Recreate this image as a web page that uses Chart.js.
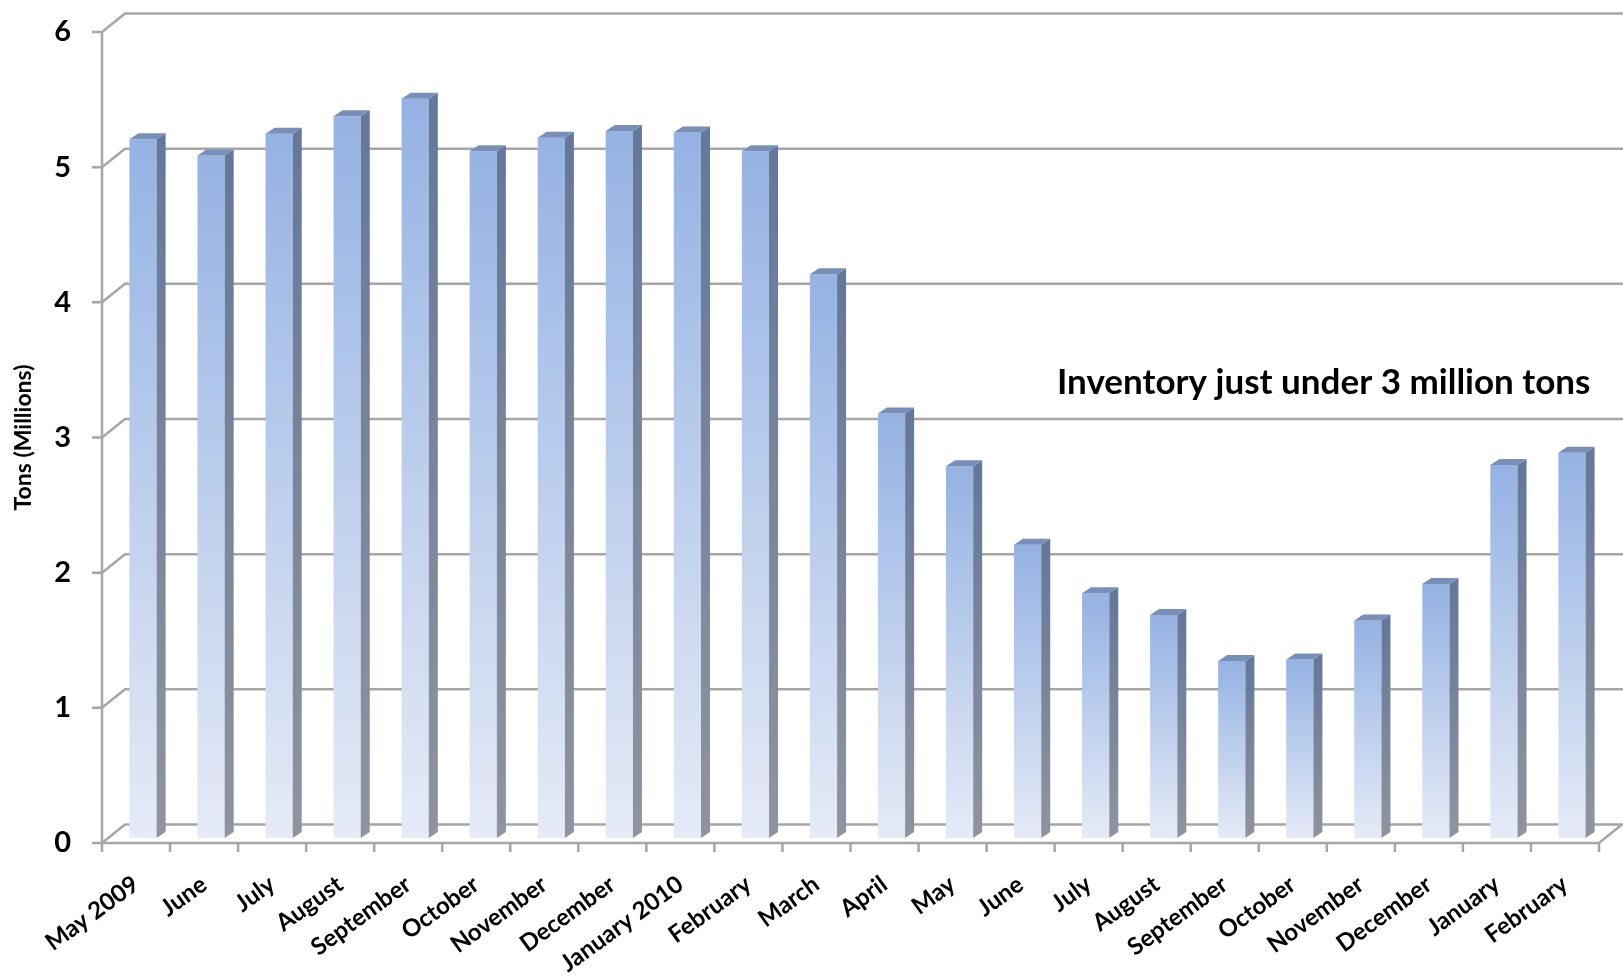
<!DOCTYPE html>
<html>
<head>
<meta charset="utf-8">
<script src="https://cdn.jsdelivr.net/npm/chart.js@4.4.0/dist/chart.umd.min.js"></script>
<style>
  html, body { margin: 0; padding: 0; background: #fff; }
  #wrap { width: 1623px; height: 977px; }
</style>
</head>
<body>
<div id="wrap"><canvas id="inventoryChart" width="1623" height="977"></canvas></div>
<script>
// ---------------- data ----------------
const months = ['May 2009', 'June', 'July', 'August', 'September', 'October', 'November',
  'December', 'January 2010', 'February', 'March', 'April', 'May', 'June', 'July',
  'August', 'September', 'October', 'November', 'December', 'January', 'February'];

const inventory = [5.17, 5.05, 5.21, 5.34, 5.47, 5.08, 5.18, 5.23, 5.22, 5.08, 4.17,
  3.14, 2.75, 2.17, 1.81, 1.65, 1.31, 1.32, 1.61, 1.88, 2.76, 2.85];

const yTicks = [0, 1, 2, 3, 4, 5, 6];
const yTitle = 'Tons (Millions)';
const noteText = 'Inventory just under 3 million tons';

// ---------------- 3d look ----------------
const FONT = 'Lato, "Open Sans", sans-serif';
const WALL_DX = 23, WALL_DY = -18.5; // depth of the back wall
const BAR_DX = 7, BAR_DY = -5;       // bars stand a bit behind the front edge
const SIDE_DX = 9, SIDE_DY = -6;     // depth of each bar
const GRID = '#a6a6a6';

const frame3d = {
  id: 'frame3d',
  beforeDatasetsDraw(chart) {
    const { ctx, chartArea, scales } = chart;
    const x = scales.x, y = scales.y;
    const left = chartArea.left, right = chartArea.right;
    ctx.save();
    ctx.strokeStyle = GRID;
    ctx.lineWidth = 2.5;
    // value lines: tick, diagonal, back wall line
    yTicks.forEach(v => {
      const py = y.getPixelForValue(v);
      ctx.beginPath();
      ctx.moveTo(left - 10, py);
      ctx.lineTo(left, py);
      ctx.lineTo(left + WALL_DX, py + WALL_DY);
      ctx.lineTo(chart.width + 5, py + WALL_DY);
      ctx.stroke();
    });
    // front left edge
    ctx.beginPath();
    ctx.moveTo(left, y.getPixelForValue(6));
    ctx.lineTo(left, y.getPixelForValue(0));
    ctx.stroke();
    // floor front edge + right diagonal
    const base = y.getPixelForValue(0);
    ctx.beginPath();
    ctx.moveTo(left, base);
    ctx.lineTo(right, base);
    ctx.lineTo(right + WALL_DX, base + WALL_DY);
    ctx.stroke();
    // category ticks on the front edge
    const step = (right - left) / months.length;
    for (let i = 0; i <= months.length; i++) {
      const px = x.getPixelForValue(i) - step / 2;
      ctx.beginPath();
      ctx.moveTo(px, base);
      ctx.lineTo(px, base + 9);
      ctx.stroke();
    }
    ctx.restore();
    ctx.save();
    ctx.translate(BAR_DX, BAR_DY);
  },
  afterDatasetsDraw(chart) {
    const { ctx } = chart;
    const meta = chart.getDatasetMeta(0);
    meta.data.forEach(bar => {
      const { x, y, base, width } = bar.getProps(['x', 'y', 'base', 'width'], true);
      const l = x - width / 2, r = x + width / 2;
      // side face
      const sg = ctx.createLinearGradient(0, y, 0, base);
      sg.addColorStop(0, '#65779a');
      sg.addColorStop(1, '#8f949e');
      ctx.fillStyle = sg;
      ctx.beginPath();
      ctx.moveTo(r, y);
      ctx.lineTo(r + SIDE_DX, y + SIDE_DY);
      ctx.lineTo(r + SIDE_DX, base + SIDE_DY);
      ctx.lineTo(r, base);
      ctx.closePath();
      ctx.fill();
      // top face
      ctx.fillStyle = '#7a8fb8';
      ctx.beginPath();
      ctx.moveTo(l, y);
      ctx.lineTo(l + SIDE_DX, y + SIDE_DY);
      ctx.lineTo(r + SIDE_DX, y + SIDE_DY);
      ctx.lineTo(r, y);
      ctx.closePath();
      ctx.fill();
    });
    ctx.restore();
  },
  afterDraw(chart) {
    const { ctx } = chart;
    ctx.save();
    ctx.fillStyle = '#000';
    ctx.font = 'bold 35px ' + FONT;
    ctx.textBaseline = 'middle';
    ctx.textAlign = 'left';
    ctx.fillText(noteText, 1057, 383, 534);
    ctx.restore();
  }
};

function barFill(context) {
  const chart = context.chart;
  if (!chart.chartArea || context.type !== 'data') return '#a9bfe8';
  const y = chart.scales.y;
  const top = y.getPixelForValue(context.raw);
  const bottom = y.getPixelForValue(0);
  const g = chart.ctx.createLinearGradient(0, top, 0, bottom);
  g.addColorStop(0, '#95b2e3');
  g.addColorStop(1, '#e5ebf7');
  return g;
}

const inventoryChart = new Chart(document.getElementById('inventoryChart'), {
  type: 'bar',
  data: {
    labels: months,
    datasets: [{
      data: inventory,
      backgroundColor: barFill,
      borderWidth: 0,
      barPercentage: 0.4,
      categoryPercentage: 1
    }]
  },
  options: {
    responsive: false,
    devicePixelRatio: 1,
    animation: false,
    layout: { padding: { top: 32, right: 24, left: 0, bottom: 0 } },
    plugins: {
      legend: { display: false },
      tooltip: { enabled: false }
    },
    scales: {
      x: {
        grid: { display: false, drawTicks: false },
        border: { display: false },
        afterFit(scale) { scale.height = 134; },
        ticks: {
          autoSkip: false,
          minRotation: 36,
          maxRotation: 36,
          padding: 27,
          color: '#000',
          font: { family: FONT, size: 24, weight: 'bold' }
        }
      },
      y: {
        min: 0,
        max: 6,
        grid: { display: false, drawTicks: false },
        border: { display: false },
        afterFit(scale) {
          scale.width = 102;
          // label padding would otherwise push the plot down
          scale.paddingTop = 0;
          scale.paddingBottom = 0;
        },
        ticks: {
          stepSize: 1,
          padding: 31,
          color: '#000',
          font: { family: FONT, size: 29, weight: 'bold' }
        },
        title: {
          display: true,
          text: yTitle,
          color: '#000',
          padding: { top: 10, bottom: 0 },
          font: { family: FONT, size: 23, weight: 'bold' }
        }
      }
    }
  },
  plugins: [frame3d]
});
</script>
</body>
</html>
